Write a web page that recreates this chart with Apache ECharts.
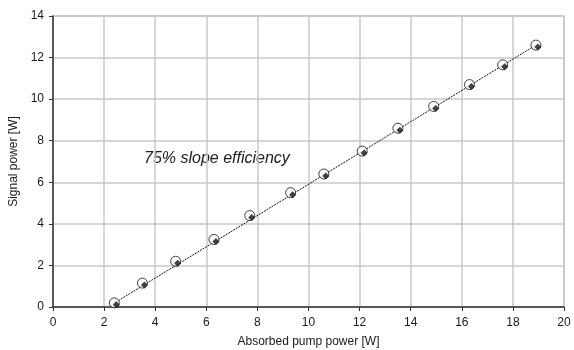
<!DOCTYPE html>
<html>
<head>
<meta charset="utf-8">
<script src="https://cdn.jsdelivr.net/npm/echarts@6/dist/echarts.min.js"></script>
<style>
  html, body { margin: 0; padding: 0; background: #fff; }
  #chart { width: 574px; height: 350px; }
</style>
</head>
<body>
<div id="chart"></div>
<script>
// absorbed pump power [W]
var pumpPower = [2.4, 3.5, 4.8, 6.3, 7.7, 9.3, 10.6, 12.1, 13.5, 14.9, 16.3, 17.6, 18.9];
// signal power [W]
var signalPower = [0.2, 1.15, 2.2, 3.25, 4.4, 5.5, 6.4, 7.5, 8.6, 9.65, 10.7, 11.65, 12.6];
// linear fit ends
var fitX = [2.35, 18.9];
var fitY = [0.15, 12.6];

var points = pumpPower.map(function (x, i) { return [x, signalPower[i]]; });
var fitLine = fitX.map(function (x, i) { return [x, fitY[i]]; });

var fontColor = '#1a1a1a';
var myChart = echarts.init(document.getElementById('chart'));
var option = {
  backgroundColor: '#fff',
  animation: false,
  grid: {
    left: 53, right: 10, top: 16, bottom: 43, outerBoundsMode: 'none',
    show: true, borderColor: '#bdbdbd', borderWidth: 1.5
  },
  xAxis: {
    type: 'value', min: 0, max: 20, interval: 2,
    name: 'Absorbed pump power [W]', nameLocation: 'middle', nameGap: 29,
    nameTextStyle: { color: fontColor, fontSize: 12, fontFamily: 'Liberation Sans' },
    axisLabel: { color: fontColor, fontSize: 12, fontFamily: 'Liberation Sans', margin: 10 },
    axisLine: { show: true, onZero: false, lineStyle: { color: '#333', width: 1.5 } },
    axisTick: { show: true, length: 4, lineStyle: { color: '#333' } },
    splitLine: { show: true, lineStyle: { color: '#c8c8c8', width: 1.5 } }
  },
  yAxis: {
    type: 'value', min: 0, max: 14, interval: 2,
    name: 'Signal power [W]', nameLocation: 'middle', nameGap: 31,
    nameTextStyle: { color: fontColor, fontSize: 12, fontFamily: 'Liberation Sans' },
    axisLabel: { color: fontColor, fontSize: 12, fontFamily: 'Liberation Sans', margin: 9 },
    axisLine: { show: true, onZero: false, lineStyle: { color: '#333', width: 1.5 } },
    axisTick: { show: true, length: 4, lineStyle: { color: '#333' } },
    splitLine: { show: true, lineStyle: { color: '#c8c8c8', width: 1.5 } }
  },
  graphic: [{
    type: 'text', left: 144, top: 151,
    style: { text: '75% slope efficiency', fill: '#222', font: 'italic 16px "Liberation Sans"' }
  }],
  series: [
    {
      type: 'line', data: fitLine, symbol: 'none',
      lineStyle: { color: '#111', width: 1, type: [2, 1] }, z: 2
    },
    {
      type: 'scatter', data: points, symbol: 'circle', symbolSize: 10,
      itemStyle: { color: '#fff', borderColor: '#111', borderWidth: 1 }, z: 3
    },
    {
      type: 'scatter', data: points, symbol: 'diamond', symbolSize: 7,
      symbolOffset: [2, 2],
      itemStyle: { color: '#111' }, z: 4
    }
  ]
};
myChart.setOption(option);
</script>
</body>
</html>
